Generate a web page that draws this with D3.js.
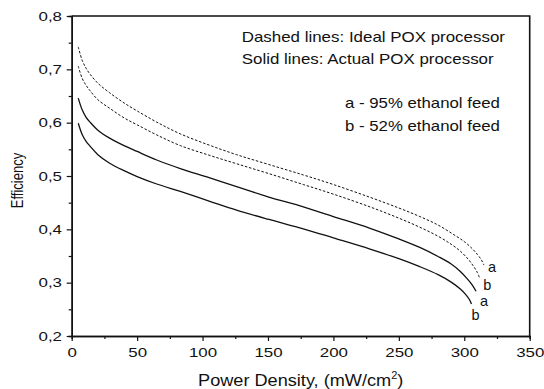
<!DOCTYPE html>
<html>
<head>
<meta charset="utf-8">
<script src="https://cdn.jsdelivr.net/npm/d3@7"></script>
<style>
  body { margin: 0; background: #fff; }
  text { font-family: "Liberation Sans", Arial, sans-serif; fill: #111; }
</style>
</head>
<body>
<svg id="svg" width="544" height="389"></svg>
<script>
// power density (mW/cm2) and efficiency
const idealA_x = [5, 8, 11, 14, 20, 29, 40, 50, 65, 83, 105, 126, 150, 177, 200, 228, 250, 266, 280, 292, 300, 306, 310, 313, 315]
const idealA_y = [0.742, 0.717, 0.702, 0.691, 0.674, 0.656, 0.637, 0.622, 0.601, 0.579, 0.558, 0.540, 0.522, 0.502, 0.484, 0.460, 0.440, 0.424, 0.408, 0.390, 0.377, 0.364, 0.353, 0.343, 0.333]

const idealB_x = [5, 8, 11, 14, 20, 29, 40, 50, 65, 83, 105, 126, 150, 177, 200, 228, 250, 266, 280, 290, 297, 303, 307, 310, 311.5]
const idealB_y = [0.706, 0.683, 0.670, 0.660, 0.643, 0.627, 0.609, 0.596, 0.577, 0.557, 0.539, 0.523, 0.505, 0.484, 0.466, 0.442, 0.421, 0.404, 0.387, 0.372, 0.359, 0.344, 0.331, 0.319, 0.310]

const actualA_x = [5, 8, 11, 14, 20, 29, 40, 50, 65, 83, 105, 126, 150, 177, 200, 228, 250, 266, 280, 290, 297, 302, 306, 309]
const actualA_y = [0.646, 0.624, 0.610, 0.601, 0.586, 0.571, 0.557, 0.546, 0.530, 0.514, 0.497, 0.480, 0.461, 0.442, 0.424, 0.402, 0.382, 0.366, 0.349, 0.335, 0.321, 0.308, 0.296, 0.284]

const actualB_x = [5, 8, 11, 14, 20, 29, 40, 50, 65, 83, 105, 126, 150, 177, 200, 228, 250, 266, 280, 290, 297, 301, 304, 305.5]
const actualB_y = [0.599, 0.578, 0.565, 0.556, 0.540, 0.524, 0.510, 0.499, 0.485, 0.471, 0.453, 0.436, 0.419, 0.401, 0.384, 0.363, 0.345, 0.330, 0.315, 0.301, 0.288, 0.278, 0.268, 0.260]

const xTicks = [0, 50, 100, 150, 200, 250, 300, 350]
const yTicks = [0.2, 0.3, 0.4, 0.5, 0.6, 0.7, 0.8]

const legendLines = ['Dashed lines: Ideal POX processor', 'Solid lines: Actual POX processor']
const feedLines = ['a - 95% ethanol feed', 'b - 52% ethanol feed']

const series = [
  { x: idealA_x, y: idealA_y, dashed: true, label: 'a', dx: 4, dy: 7 },
  { x: idealB_x, y: idealB_y, dashed: true, label: 'b', dx: 4, dy: 13 },
  { x: actualA_x, y: actualA_y, dashed: false, label: 'a', dx: 4, dy: 15 },
  { x: actualB_x, y: actualB_y, dashed: false, label: 'b', dx: 0, dy: 16 }
]

const plotLeft = 71.7, plotRight = 529.7, plotTop = 16, plotBottom = 336
// the scanned figure is a bit wider than tall, text included
const stretch = 1.25

const xScale = d3.scaleLinear().domain([0, 350]).range([plotLeft, plotRight])
const yScale = d3.scaleLinear().domain([0.2, 0.8]).range([plotBottom, plotTop])

const comma = d3.formatLocale({ decimal: ',', thousands: '.', grouping: [3], currency: ['', ''] })

const svg = d3.select('#svg')

// minor ticks
svg.append('g')
  .attr('transform', `translate(0,${plotBottom})`)
  .call(d3.axisBottom(xScale).tickValues(d3.range(25, 350, 50)).tickSize(3).tickFormat(''))
svg.append('g')
  .attr('transform', `translate(${plotLeft},0)`)
  .call(d3.axisLeft(yScale).tickValues(d3.range(0.25, 0.8, 0.1)).tickSize(3).tickFormat(''))

svg.append('g')
  .attr('transform', `translate(0,${plotBottom})`)
  .call(d3.axisBottom(xScale).tickValues(xTicks).tickSize(5).tickPadding(6).tickSizeOuter(0))
svg.append('g')
  .attr('transform', `translate(${plotLeft},0)`)
  .call(d3.axisLeft(yScale).tickValues(yTicks).tickSize(5).tickPadding(2.8).tickSizeOuter(0)
    .tickFormat(comma.format('.1f')))

svg.selectAll('.tick text')
  .attr('font-size', 13.5)
  .attr('fill', '#111')
  .attr('transform', `scale(${stretch},1)`)
svg.selectAll('.domain').attr('stroke', '#111').attr('stroke-width', 1.5)
svg.selectAll('.tick line').attr('stroke', '#111').attr('stroke-width', 1.2)

// frame top and right
svg.append('path')
  .attr('d', `M${plotLeft},${plotTop}H${plotRight}V${plotBottom}`)
  .attr('fill', 'none')
  .attr('stroke', '#111')
  .attr('stroke-width', 1.6)

const line = d3.line()
  .x(d => xScale(d[0]))
  .y(d => yScale(d[1]))
  .curve(d3.curveCatmullRom.alpha(0.5))

svg.selectAll('.curve')
  .data(series)
  .enter()
  .append('path')
  .attr('class', 'curve')
  .attr('d', s => line(s.x.map((v, i) => [v, s.y[i]])))
  .attr('fill', 'none')
  .attr('stroke', '#111')
  .attr('stroke-width', s => s.dashed ? 1 : 1.3)
  .attr('stroke-dasharray', s => s.dashed ? '2.5,1.8' : null)

// end labels
svg.selectAll('.endlabel')
  .data(series)
  .enter()
  .append('text')
  .attr('class', 'endlabel')
  .attr('x', s => xScale(s.x[s.x.length - 1]) + s.dx)
  .attr('y', s => yScale(s.y[s.y.length - 1]) + s.dy)
  .attr('font-size', 14.5)
  .text(s => s.label)

// legend text
svg.selectAll('.legend')
  .data(legendLines)
  .enter()
  .append('text')
  .attr('transform', (d, i) => `translate(241.7,${42 + i * 22}) scale(1.21,1)`)
  .attr('font-size', 14)
  .text(d => d)

svg.selectAll('.feed')
  .data(feedLines)
  .enter()
  .append('text')
  .attr('transform', (d, i) => `translate(345,${108 + i * 23}) scale(1.2,1)`)
  .attr('font-size', 14)
  .text(d => d)

// axis titles
const xTitle = svg.append('text')
  .attr('transform', `translate(${(plotLeft + plotRight) / 2},386) scale(1.1,1)`)
  .attr('text-anchor', 'middle')
  .attr('font-size', 16.5)
xTitle.append('tspan').text('Power Density, (mW/cm')
xTitle.append('tspan').attr('font-size', 10).attr('dy', -7).text('2')
xTitle.append('tspan').attr('dy', 7).text(')')

svg.append('text')
  .attr('transform', 'translate(23,180.5) rotate(-90) scale(1,1.2)')
  .attr('text-anchor', 'middle')
  .attr('font-size', 13)
  .text('Efficiency')
</script>
</body>
</html>
